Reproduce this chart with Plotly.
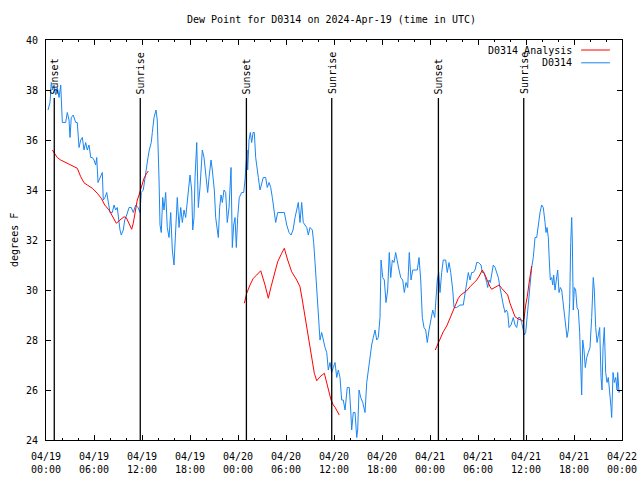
import pandas as pd
import plotly.graph_objects as go

START = "2024-04-19 00:00"
END = "2024-04-22 00:00"

# Observed dew point (hours since 04/19 00:00 UTC, degrees F)
obs_hours = [0.25, 0.5, 0.66, 0.84, 1.0, 1.21, 1.41, 1.63, 1.84, 2.04, 2.46, 2.66, 2.88, 3.0, 3.16, 3.41, 3.71, 3.91,
             4.13, 4.34, 4.54, 4.75, 4.96, 5.16, 5.38, 5.59, 5.79, 6.0, 6.21, 6.34, 6.5, 6.75, 7.04, 7.16, 7.38, 7.59,
             7.75, 8.0, 8.29, 8.5, 8.71, 8.91, 9.25, 9.41, 9.66, 9.84, 10.09, 10.38, 10.66, 10.91, 11.21, 11.5, 11.75,
             11.91, 12.16, 12.34, 12.59, 12.75, 12.91, 13.16, 13.29, 13.5, 13.75, 13.91, 14.13, 14.25, 14.41, 14.59,
             14.75, 14.96, 15.16, 15.38, 15.59, 15.79, 16.0, 16.21, 16.41, 16.63, 16.84, 17.04, 17.25, 17.46, 17.66,
             17.88, 18.0, 18.21, 18.34, 18.5, 18.63, 18.84, 19.04, 19.25, 19.54, 19.75, 19.96, 20.21, 20.38, 20.63,
             20.79, 21.04, 21.21, 21.38, 21.54, 21.71, 21.88, 22.04, 22.25, 22.46, 22.66, 22.88, 23.04, 23.13, 23.29,
             23.46, 23.63, 23.79, 23.96, 24.16, 24.46, 24.71, 24.88, 25.0, 25.13, 25.21, 25.38, 25.54, 25.71, 25.88,
             26.04, 26.21, 26.38, 26.54, 26.75, 26.96, 27.16, 27.46, 27.66, 27.88, 28.09, 28.29, 28.5, 28.71, 28.96,
             29.25, 29.54, 29.79, 30.09, 30.38, 30.63, 30.88, 31.13, 31.38, 31.54, 31.75, 31.96, 32.16, 32.38, 32.59,
             32.79, 33.0, 33.29, 33.46, 33.63, 33.84, 34.04, 34.25, 34.46, 34.66, 34.88, 35.09, 35.29, 35.5, 35.71,
             35.91, 36.13, 36.34, 36.54, 36.75, 36.96, 37.16, 37.38, 37.66, 37.91, 38.09, 38.21, 38.41, 38.63, 38.84,
             38.96, 39.13, 39.34, 39.59, 39.88, 40.09, 40.29, 40.5, 40.71, 40.91, 41.13, 41.34, 41.54, 41.75, 41.88,
             42.09, 42.29, 42.5, 42.71, 42.91, 43.09, 43.29, 43.5, 43.71, 43.91, 44.13, 44.34, 44.59, 44.79, 45.0,
             45.21, 45.41, 45.63, 45.84, 46.13, 46.41, 46.63, 46.84, 47.04, 47.25, 47.46, 47.66, 47.88, 48.09, 48.34,
             48.59, 48.75, 48.91, 49.09, 49.25, 49.46, 49.66, 49.96, 50.16, 50.38, 50.59, 50.84, 51.0, 51.34, 51.75,
             52.16, 52.38, 52.59, 52.79, 53.0, 53.21, 53.41, 53.63, 53.84, 54.04, 54.38, 54.54, 54.75, 54.96, 55.09,
             55.21, 55.38, 55.54, 55.71, 55.91, 56.13, 56.34, 56.54, 56.75, 56.96, 57.16, 57.38, 57.54, 57.71, 57.88,
             58.13, 58.41, 58.63, 58.84, 59.04, 59.25, 59.46, 59.66, 59.79, 59.96, 60.13, 60.29, 60.5, 60.71, 60.91,
             61.13, 61.34, 61.54, 61.75, 61.96, 62.16, 62.38, 62.5, 62.63, 62.79, 62.91, 63.04, 63.21, 63.34, 63.46,
             63.63, 63.79, 63.96, 64.13, 64.29, 64.46, 64.63, 64.79, 64.96, 65.13, 65.29, 65.46, 65.59, 65.71, 65.79,
             65.91, 66.04, 66.21, 66.38, 66.54, 66.71, 66.88, 66.96, 67.09, 67.25, 67.41, 67.59, 67.79, 68.0, 68.21,
             68.41, 68.54, 68.71, 68.88, 69.04, 69.21, 69.38, 69.5, 69.63, 69.79, 69.96, 70.13, 70.29, 70.46, 70.63,
             70.71, 70.88, 71.04, 71.21, 71.38, 71.46, 71.63, 71.75]
obs_values = [37.2, 37.5, 38.3, 38.0, 38.2, 37.8, 38.1, 37.7, 38.2, 36.7, 36.7, 37.1, 36.8, 36.1, 36.9, 37.0, 36.7, 36.7,
              35.7, 36.0, 36.1, 35.6, 35.9, 35.6, 35.8, 35.3, 35.3, 35.2, 35.0, 35.3, 34.3, 34.5, 34.7, 33.6, 33.7, 33.9,
              33.5, 33.1, 33.1, 33.4, 33.2, 33.3, 32.4, 32.2, 32.4, 32.8, 33.0, 33.3, 33.3, 33.1, 33.4, 33.3, 33.1,
              33.9, 34.0, 34.4, 35.1, 35.3, 35.6, 35.9, 36.3, 36.9, 37.2, 36.8, 34.4, 32.6, 32.3, 33.7,
              33.2, 33.9, 32.5, 32.1, 33.1, 31.6, 31.0, 32.4, 33.7, 32.5, 33.3, 32.7, 33.2, 32.9, 33.5,
              34.2, 34.6, 34.0, 32.4, 32.9, 34.5, 35.9, 33.3, 34.1, 35.6, 35.3, 34.7, 33.9, 34.5, 35.2,
              34.8, 34.0, 32.9, 32.5, 32.1, 33.3, 33.8, 33.5, 34.0, 33.9, 32.7, 33.3, 34.4, 34.9, 31.7,
              32.6, 32.9, 31.7, 32.9, 33.7, 33.9, 33.9, 34.4, 35.2, 35.6, 34.8, 36.0, 36.3, 35.9, 36.3,
              36.3, 35.3, 34.8, 34.5, 34.0, 34.3, 34.5, 34.5, 34.1, 34.3, 34.1, 33.7, 33.2, 32.7, 33.1,
              33.1, 33.1, 33.1, 32.6, 32.3, 32.2, 32.4, 32.9, 33.3, 33.5, 32.7, 33.5, 32.7, 32.6, 32.5,
              32.2, 32.5, 32.4, 31.9, 31.1, 30.1, 28.8, 28.0, 28.3, 28.0, 27.7, 27.5, 26.8, 27.1, 26.7,
              26.9, 27.1, 26.5, 26.8, 26.5, 25.6, 25.6, 25.2, 26.1, 26.1, 25.2, 24.4, 25.1, 25.1, 24.1,
              24.4, 26.0, 25.7, 25.5, 25.1, 26.3, 26.8, 27.5, 27.8, 28.1, 28.4, 28.0, 28.1, 28.9, 31.2,
              30.5, 30.4, 29.5, 30.0, 31.5, 30.5, 31.2, 31.1, 31.5, 31.1, 30.8, 30.5, 30.4, 29.9, 30.3,
              30.1, 31.5, 30.4, 30.8, 30.8, 30.8, 31.3, 30.4, 28.9, 28.5, 28.4, 27.9, 28.4, 28.8, 29.2,
              28.9, 29.7, 30.4, 30.7, 29.9, 30.7, 31.2, 31.2, 30.7, 31.1, 30.7, 30.0, 29.3, 29.3, 29.4,
              29.4, 29.9, 30.3, 30.7, 30.4, 30.7, 30.7, 30.8, 31.1, 31.1, 31.0, 30.7, 30.7, 30.5, 30.3,
              30.1, 30.4, 30.3, 30.7, 31.0, 30.9, 30.7, 30.5, 30.1, 29.7, 29.4, 29.1, 29.2, 29.1, 28.5,
              28.6, 28.9, 28.6, 28.5, 28.9, 28.9, 28.7, 28.4, 28.2, 28.3, 28.9, 29.6, 30.4, 30.9, 31.3,
              32.1, 32.1, 32.7, 33.1, 33.4, 33.3, 32.7, 32.3, 32.5, 32.1, 31.2, 30.4, 30.5, 30.2, 30.6,
              30.0, 30.4, 30.8, 29.9, 30.1, 30.0, 29.5, 28.9, 28.5, 28.1, 28.4, 29.5, 31.9, 32.9, 32.0,
              29.2, 30.1, 30.0, 29.3, 29.2, 28.3, 26.4, 25.8, 28.0, 27.6, 26.9, 27.3, 27.5, 27.7, 28.9,
              30.5, 30.0, 28.5, 27.9, 28.3, 28.5, 26.5, 26.0, 27.7, 28.5, 26.7, 26.3, 26.5, 26.0, 25.3,
              24.9, 26.7, 26.3, 26.5, 26.0, 26.7, 25.9, 26.0]

# Analysis dew point, three separate runs
ana1_hours = [0.79, 1.0, 1.41, 1.84, 2.46, 3.09, 3.71, 3.91, 4.34, 4.75, 5.16, 5.79, 6.41, 6.91, 7.34, 7.88, 8.29,
              8.79, 9.25, 9.75, 10.04, 10.38, 10.71, 10.91, 11.21, 11.41, 11.63, 11.91, 12.25, 12.59, 12.79]
ana1_values = [35.6, 35.5, 35.3, 35.2, 35.1, 35.0, 34.9, 34.87, 34.53, 34.29, 34.2, 34.07, 33.87, 33.67, 33.4, 33.2,
               32.96, 32.67, 32.8, 32.93, 32.89, 32.67, 32.43, 32.67, 33.2, 33.6, 33.8, 34.13, 34.47, 34.67, 34.76]
ana2_hours = [24.79, 25.09, 25.5, 25.91, 26.34, 26.84, 27.38, 27.79, 28.13, 28.54, 28.96, 29.46, 29.79, 30.21, 30.71,
              31.34, 31.75, 32.04, 32.38, 32.79, 33.21, 33.54, 33.84, 34.25, 34.79, 35.09, 35.38, 35.63, 35.91, 36.13,
              36.66]
ana2_values = [29.47, 29.87, 30.2, 30.47, 30.6, 30.77, 30.2, 29.67, 30.13, 30.67, 31.13, 31.47, 31.67, 31.2, 30.73,
               30.4, 30.13, 29.6, 28.93, 28.13, 27.33, 26.67, 26.37, 26.53, 26.67, 26.27, 25.87, 25.6, 25.4, 25.31,
               25.0]
ana3_hours = [48.66, 48.91, 49.25, 49.66, 50.09, 50.5, 50.91, 51.25, 51.54, 51.84, 52.16, 52.59, 53.0, 53.41, 53.84,
              54.16, 54.54, 54.88, 55.21, 55.5, 55.71, 56.13, 56.63, 56.96, 57.38, 57.71, 58.0, 58.29, 58.63, 59.04,
              59.46, 59.66, 59.79, 59.96, 60.16, 60.38, 60.54, 60.71]
ana3_values = [27.6, 27.8, 28.0, 28.33, 28.56, 28.87, 29.2, 29.47, 29.67, 29.8, 29.87, 29.97, 30.13, 30.27, 30.4,
               30.56, 30.8, 30.6, 30.33, 30.13, 30.03, 30.11, 30.2, 30.07, 29.93, 29.8, 29.47, 29.2, 28.93, 28.84,
               28.8, 28.73, 28.93, 29.4, 29.73, 30.27, 30.73, 30.96]

event_times = ["2024-04-19 01:02", "2024-04-19 11:47", "2024-04-20 01:03",
               "2024-04-20 11:43", "2024-04-21 01:03", "2024-04-21 11:43"]
event_labels = ["Sunset", "Sunrise", "Sunset", "Sunrise", "Sunset", "Sunrise"]

tick_vals = ["2024-04-19 00:00", "2024-04-19 06:00", "2024-04-19 12:00", "2024-04-19 18:00",
             "2024-04-20 00:00", "2024-04-20 06:00", "2024-04-20 12:00", "2024-04-20 18:00",
             "2024-04-21 00:00", "2024-04-21 06:00", "2024-04-21 12:00", "2024-04-21 18:00",
             "2024-04-22 00:00"]
tick_text = ["04/19<br>00:00", "04/19<br>06:00", "04/19<br>12:00", "04/19<br>18:00",
             "04/20<br>00:00", "04/20<br>06:00", "04/20<br>12:00", "04/20<br>18:00",
             "04/21<br>00:00", "04/21<br>06:00", "04/21<br>12:00", "04/21<br>18:00",
             "04/22<br>00:00"]
y_ticks = [24, 26, 28, 30, 32, 34, 36, 38, 40]

BLUE = "#1a86f2"
RED = "#ff0000"
FONT = "DejaVu Sans Mono"

base = pd.Timestamp(START)


def to_time(hours):
    return list(base + pd.to_timedelta(hours, unit="h"))


ana_x, ana_y = [], []
for hs, vs in [(ana1_hours, ana1_values), (ana2_hours, ana2_values), (ana3_hours, ana3_values)]:
    if ana_x:
        ana_x.append(None)
        ana_y.append(None)
    ana_x += to_time(hs)
    ana_y += vs

fig = go.Figure()
fig.add_trace(go.Scatter(x=to_time(obs_hours), y=obs_values, mode="lines", name="D0314",
                         line=dict(color=BLUE, width=1), showlegend=False))
fig.add_trace(go.Scatter(x=ana_x, y=ana_y, mode="lines", name="D0314 Analysis",
                         line=dict(color=RED, width=1), connectgaps=False, showlegend=False))

shapes = []
annotations = []
for t, lab in zip(event_times, event_labels):
    shapes.append(dict(type="line", xref="x", yref="paper", x0=t, x1=t, y0=0, y1=0.855,
                       line=dict(color="black", width=1.3)))
    annotations.append(dict(x=t, y=0.862, xref="x", yref="paper", text=lab, textangle=-90,
                            showarrow=False, xanchor="center", yanchor="bottom", borderpad=0,
                            font=dict(family=FONT, size=10, color="black")))

# manual legend (gnuplot style: text then line sample)
legend_items = [("D0314 Analysis", RED, 0.975), ("D0314", BLUE, 0.943)]
for name, col, ly in legend_items:
    annotations.append(dict(x=0.917, y=ly, xref="paper", yref="paper", text=name, showarrow=False,
                            xanchor="right", yanchor="middle", font=dict(family=FONT, size=10, color="black")))
    shapes.append(dict(type="line", xref="paper", yref="paper", x0=0.929, x1=0.979, y0=ly, y1=ly,
                       line=dict(color=col, width=1)))

annotations.append(dict(x=0.495, y=1.0525, xref="paper", yref="paper", yanchor="middle",
                        text="Dew Point for D0314 on 2024-Apr-19 (time in UTC)", showarrow=False,
                        font=dict(family=FONT, size=10, color="black")))
annotations.append(dict(x=-0.0556, y=0.5, xref="paper", yref="paper", xanchor="center", yanchor="middle",
                        text="degrees F", textangle=-90, showarrow=False,
                        font=dict(family=FONT, size=10, color="black")))

fig.update_layout(
    width=640, height=480,
    margin=dict(l=46, r=18, t=40, b=40),
    paper_bgcolor="white", plot_bgcolor="white",
    font=dict(family=FONT, size=10, color="black"),
    shapes=shapes, annotations=annotations,
    showlegend=False,
)
fig.update_xaxes(
    type="date", range=[START, END],
    tickvals=tick_vals, ticktext=tick_text,
    ticks="inside", ticklen=5, tickcolor="black", tickwidth=1,
    minor=dict(dtick=7200000, ticks="inside", ticklen=2, tickcolor="black", showgrid=False),
    showgrid=False, zeroline=False, automargin=False,
    showline=True, linecolor="black", linewidth=1, mirror="ticks",
    tickfont=dict(family=FONT, size=10, color="black"),
    ticklabelstandoff=7,
)
fig.update_yaxes(
    range=[24, 40], tickvals=y_ticks,
    ticks="inside", ticklen=5, tickcolor="black", tickwidth=1,
    showgrid=False, zeroline=False, automargin=False,
    showline=True, linecolor="black", linewidth=1, mirror="ticks",
    tickfont=dict(family=FONT, size=10, color="black"),
    ticklabelstandoff=5,
)

fig.write_html("out.html", config={"displayModeBar": False},
               post_script="document.body.style.margin='0';")
